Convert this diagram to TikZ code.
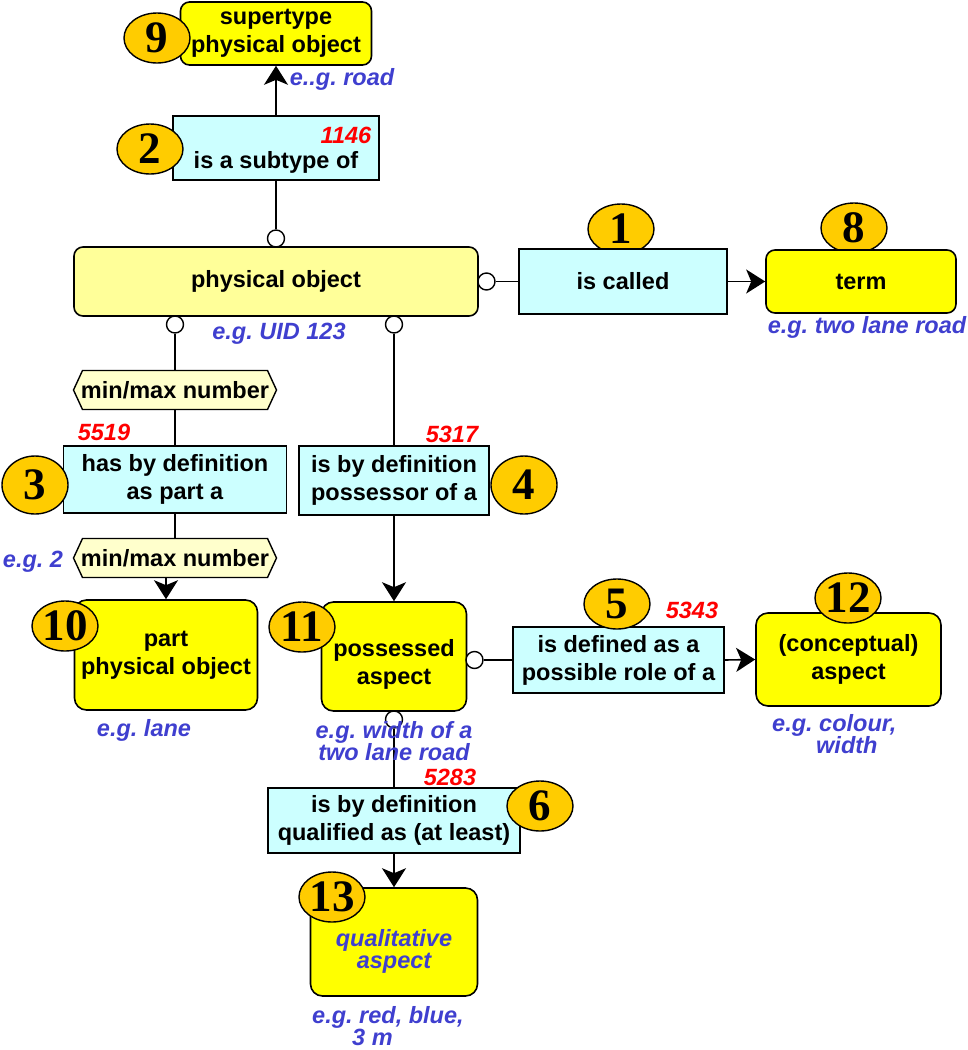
\documentclass[tikz,border=0pt]{standalone}
\usepackage{fontspec}
\setmainfont{Liberation Sans}
\newfontfamily\badgefont{Liberation Serif}
\usetikzlibrary{arrows.meta,calc,shapes.geometric}
\frenchspacing

\definecolor{objyellow}{HTML}{FFFF00}
\definecolor{physyellow}{HTML}{FFFF99}
\definecolor{hexyellow}{HTML}{FFFFCC}
\definecolor{relcyan}{HTML}{CCFFFF}
\definecolor{badgeorange}{HTML}{FFCC00}
\definecolor{egblue}{HTML}{3F3FCF}
\definecolor{uidred}{HTML}{FF0000}

\tikzset{
  txt/.style={inner sep=0pt, align=center, font=\fontsize{23.5}{28}\selectfont\bfseries},
  obj/.style={draw, line width=1.6pt, fill=objyellow, rounded corners=9pt, inner sep=0pt, align=center,
              font=\fontsize{23.5}{28}\selectfont\bfseries},
  rel/.style={draw, line width=1.6pt, fill=relcyan, inner sep=0pt, align=center,
              font=\fontsize{23.5}{28}\selectfont\bfseries},
  hexshape/.style={draw, line width=1.4pt, fill=hexyellow},
  badge/.style={ellipse, draw, line width=1.4pt, fill=badgeorange, minimum width=66pt, minimum height=50pt,
                inner sep=0pt, font=\fontsize{45}{45}\selectfont\badgefont\bfseries},
  tallbadge/.style={badge, minimum height=58pt},
  ring/.style={circle, draw, line width=1.4pt, fill=white, minimum size=17pt, inner sep=0pt},
  conn/.style={line width=1.6pt},
  arr/.style={line width=1.6pt, -{Stealth[length=19pt, width=24pt, inset=5pt]}},
  eg/.style={inner sep=0pt, text=egblue, font=\fontsize{23.5}{22}\selectfont\bfseries\itshape},
  uid/.style={inner sep=0pt, text=uidred, font=\fontsize{23.5}{22}\selectfont\bfseries\itshape},
}

\begin{document}
\begin{tikzpicture}[x=1pt, y=-1pt]
\useasboundingbox (0,0) rectangle (968,1050);

% badges that sit behind their boxes
\node[badge] (b1) at (621,229) {1};
\node[badge] (b8) at (854,228) {8};

% object boxes
\node[obj, minimum width=191pt, minimum height=63pt] (sup) at (276,33.5) {supertype\\physical object};
\node[obj, fill=physyellow, minimum width=404pt, minimum height=69pt] (phys) at (276,281.5) {physical object};
\node[obj, minimum width=190pt, minimum height=63pt] (term) at (861,281.5) {term};
\node[obj, rounded corners=12pt, minimum width=183pt, minimum height=110pt] (partobj) at (166,655) {part\\physical object};
\node[obj, rounded corners=12pt, minimum width=145pt, minimum height=109pt] (possasp) at (394,656.5) {};
\node[txt] (possasptxt) at (394,664.5) {possessed\\aspect};
\node[obj, rounded corners=12pt, minimum width=185pt, minimum height=93pt] (concept) at (848.5,659.5) {(conceptual)\\aspect};
\node[obj, rounded corners=12pt, minimum width=167pt, minimum height=108pt] (qasp) at (394,942) {};
\node[txt, text=egblue, font=\fontsize{23.5}{22}\selectfont\bfseries\itshape] (qasptxt) at (394,951) {qualitative\\aspect};

% relation boxes
\node[rel, minimum width=206pt, minimum height=64pt] (sub) at (276,148) {};
\node[txt] (subtxt) at (276,162) {is a subtype of};
\node[rel, minimum width=208pt, minimum height=65pt] (called) at (623,281.5) {is called};
\node[rel, minimum width=223pt, minimum height=67pt] (part) at (175,479.5) {has by definition\\as part a};
\node[rel, minimum width=190pt, minimum height=69pt] (poss) at (394,480.5) {is by definition\\possessor of a};
\node[rel, minimum width=211pt, minimum height=66pt] (role) at (618.5,660) {is defined as a\\possible role of a};
\node[rel, minimum width=252pt, minimum height=65pt] (qual) at (394,820.5) {is by definition\\qualified as (at least)};

% cardinality hexagons
\coordinate (h1c) at (175,390);
\coordinate (h2c) at (175,558);
\foreach \c in {h1c,h2c}
  \draw[hexshape] ($(\c)+(-101.5,0)$) -- ++(9,-19.5) -- ++(185,0) -- ++(9,19.5)
                  -- ++(-9,19.5) -- ++(-185,0) -- cycle;
\node[txt, minimum width=203pt, minimum height=39pt] (h1) at (h1c) {min/max number};
\node[txt, minimum width=203pt, minimum height=39pt] (h2) at (h2c) {min/max number};

% ring ends of the relations
\node[ring] (c1) at (276,238.5) {};
\node[ring] (c2) at (175,324.5) {};
\node[ring] (c3) at (394,324.5) {};
\node[ring] (c4) at (486.5,281.5) {};
\node[ring] (c5) at (474.5,660) {};
\node[ring] (c6) at (394,719.5) {};

% connectors
\draw[arr] (sub.north) -- (sup.south);
\draw[conn] (c1.north) -- (sub.south);
\draw[conn] (c4.east) -- (called.west);
\draw[arr] (called.east) -- (term.west);
\draw[conn] (c2.south) -- (h1.north);
\draw[conn] (h1.south) -- (part.north);
\draw[conn] (part.south) -- (h2.north);
\draw[arr] (h2.south -| partobj.north) -- (partobj.north);
\draw[conn] (c3.south) -- (poss.north);
\draw[arr] (poss.south) -- (possasp.north);
\draw[conn] (c5.east) -- (role.west);
\draw[arr] (role.east) -- (concept.west);
\draw[conn] (c6.south) -- (qual.north);
\draw[arr] (qual.south) -- (qasp.north);

% number badges
\node[badge] (b9) at (157,38) {9};
\node[badge] (b2) at (150,149) {2};
\node[tallbadge] (b3) at (35,485) {3};
\node[tallbadge] (b4) at (524,485) {4};
\node[badge] (b10) at (65,626) {10};
\node[badge] (b11) at (302,627) {11};
\node[badge] (b5) at (617,604) {5};
\node[badge] (b12) at (848,598) {12};
\node[badge] (b6) at (540,806) {6};
\node[badge] (b13) at (332,897) {13};

% identifiers
\node[uid] (u1146) at (346,135) {1146};
\node[uid] (u5519) at (104,432) {5519};
\node[uid] (u5317) at (452,434) {5317};
\node[uid] (u5343) at (692,610) {5343};
\node[uid] (u5283) at (450,777) {5283};

% examples
\node[eg] (eroad) at (342,79) {e..g. road};
\node[eg] (euid) at (279,334) {e.g. UID 123};
\node[eg] (eterm) at (867,327) {e.g. two lane road};
\node[eg] (etwo) at (33,562) {e.g. 2};
\node[eg] (elane) at (144,730) {e.g. lane};
\node[eg, align=center] (ewidth) at (394,741) {e.g. width of a\\two lane road};
\node[eg, align=left, anchor=north west] (ecolour) at (772,714) {e.g. colour,\\\hspace*{44pt}width};
\node[eg, align=left, anchor=north west] (ered) at (312,1006) {e.g. red, blue,\\\hspace*{40pt}3 m};
\end{tikzpicture}
\end{document}
